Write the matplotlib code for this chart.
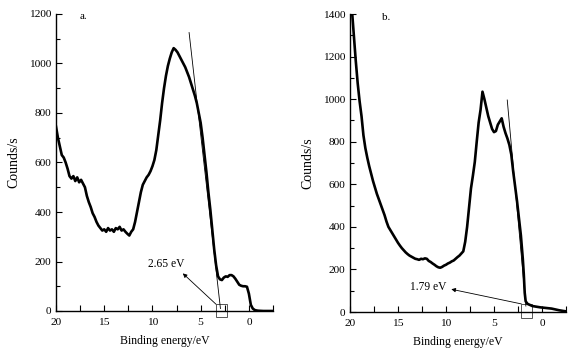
import matplotlib.pyplot as plt
from matplotlib.patches import Rectangle
from matplotlib.ticker import MultipleLocator

plt.rcParams['font.family'] = ['Liberation Serif', 'DejaVu Serif']

# Spectrum a (binding energy in eV, counts/s)
energy_a = [20.0, 19.8, 19.6, 19.4, 19.2, 19.0, 18.8, 18.6, 18.4, 18.2, 18.0, 17.8, 17.6, 17.4,
            17.2, 17.0, 16.8, 16.6, 16.4, 16.2, 16.0, 15.8, 15.6, 15.4, 15.2, 15.0, 14.8, 14.6,
            14.4, 14.2, 14.0, 13.8, 13.6, 13.4, 13.2, 13.0, 12.8, 12.6, 12.4, 12.2, 12.0, 11.8,
            11.6, 11.4, 11.2, 11.0, 10.8, 10.6, 10.4, 10.2, 10.0, 9.8, 9.6, 9.4, 9.2, 9.0, 8.8,
            8.6, 8.4, 8.2, 8.0, 7.8, 7.6, 7.4, 7.2, 7.0, 6.8, 6.6, 6.4, 6.2, 6.0, 5.8, 5.6, 5.4,
            5.2, 5.0, 4.8, 4.6, 4.4, 4.2, 4.0, 3.8, 3.6, 3.4, 3.2, 3.0, 2.8, 2.6, 2.4, 2.2, 2.0,
            1.8, 1.6, 1.4, 1.2, 1.0, 0.8, 0.6, 0.4, 0.2, 0.0, -0.2, -0.4, -0.6, -0.8, -1.0, -1.5,
            -2.0, -2.5]
counts_a = [745, 700, 665, 630, 620, 600, 575, 545, 535, 545, 525, 540, 520, 530,
            515, 500, 465, 440, 420, 395, 380, 360, 345, 335, 325, 330, 320, 335,
            325, 330, 320, 335, 330, 340, 325, 330, 320, 312, 305, 320, 330, 360,
            400, 440, 480, 510, 525, 540, 550, 565, 585, 610, 650, 710, 770, 840, 900,
            950, 990, 1020, 1045, 1062, 1055, 1045, 1030, 1015, 1000, 985, 965, 945, 920, 895, 870, 840,
            800, 760, 700, 630, 560, 480, 410, 330, 250, 185, 140, 128, 125, 135, 140, 138, 145,
            145, 140, 130, 118, 106, 102, 100, 100, 98, 70, 25, 10, 4, 2, 1, 0,
            0, 0]

# Spectrum b
energy_b = [19.8, 19.6, 19.4, 19.2, 19.0, 18.8, 18.6, 18.4, 18.2, 18.0, 17.8, 17.6, 17.4, 17.2,
            17.0, 16.8, 16.6, 16.4, 16.2, 16.0, 15.8, 15.6, 15.4, 15.2, 15.0, 14.8, 14.6, 14.4,
            14.2, 14.0, 13.8, 13.6, 13.4, 13.2, 13.0, 12.8, 12.6, 12.4, 12.2, 12.0, 11.8, 11.6,
            11.4, 11.2, 11.0, 10.8, 10.6, 10.4, 10.2, 10.0, 9.8, 9.6, 9.4, 9.2, 9.0, 8.8, 8.6,
            8.4, 8.2, 8.0, 7.8, 7.6, 7.4, 7.2, 7.0, 6.8, 6.6, 6.4, 6.2, 6.0, 5.8, 5.6, 5.4, 5.2,
            5.0, 4.8, 4.6, 4.4, 4.2, 4.0, 3.8, 3.6, 3.4, 3.2, 3.0, 2.8, 2.6, 2.4, 2.2, 2.0, 1.9,
            1.8, 1.7, 1.5, 1.2, 1.0, 0.6, 0.2, -0.2, -0.6, -1.0, -1.4, -1.8, -2.2, -2.5]
counts_b = [1420, 1300, 1180, 1075, 990, 920, 830, 770, 725, 685, 650, 615, 585, 555,
            530, 505, 480, 455, 425, 400, 385, 370, 355, 340, 325, 312, 300, 290,
            280, 272, 265, 260, 255, 250, 248, 245, 250, 248, 252, 250, 240, 235,
            228, 222, 215, 210, 208, 212, 218, 222, 228, 232, 238, 242, 250, 258, 265,
            275, 285, 330, 400, 490, 580, 640, 705, 800, 890, 950, 1035, 1000, 960, 920, 890, 860,
            845, 850, 880, 895, 910, 870, 840, 815, 785, 740, 660, 590, 520, 440, 360, 250, 180,
            90, 50, 38, 32, 28, 25, 22, 20, 18, 16, 12, 8, 5, 3]

panels = [
    dict(E=energy_a, C=counts_a, ymax=1200, tag='a.', tag_xy=(17.6, 1190),
         tangent=([6.2, 2.95], [1125, 10]), box=(2.23, -25, 1.2, 52),
         label='2.65 eV', label_xy=(8.6, 190), tip=(6.85, 152), tail=(3.4, 27),
         rect=[56 / 582, 48 / 359, 217 / 582, 297 / 359]),
    dict(E=energy_b, C=counts_b, ymax=1400, tag='b.', tag_xy=(16.7, 1385),
         tangent=([3.62, 1.68], [996, 28]), box=(1.05, -27, 1.16, 64),
         label='1.79 eV', label_xy=(11.9, 119), tip=(9.45, 107), tail=(2.15, 38),
         rect=[350 / 582, 47 / 359, 216 / 582, 298 / 359]),
]

fig = plt.figure(figsize=(5.82, 3.59), dpi=100)

for p in panels:
    ax = fig.add_axes(p['rect'])
    ax.plot(p['E'], p['C'], color='black', lw=1.9, solid_joinstyle='round')
    ax.plot(p['tangent'][0], p['tangent'][1], color='black', lw=0.6)
    x0, y0, w, h = p['box']
    ax.add_patch(Rectangle((x0, y0), w, h, fill=False, ec='#555555', lw=0.7, clip_on=False))
    ax.annotate('', xy=p['tip'], xytext=p['tail'],
                arrowprops=dict(arrowstyle='-|>', color='black', lw=0.6,
                                mutation_scale=6, shrinkA=0, shrinkB=0))
    ax.text(p['label_xy'][0], p['label_xy'][1], p['label'], ha='center', va='center', fontsize=8.3)
    ax.text(p['tag_xy'][0], p['tag_xy'][1], p['tag'], ha='left', va='center', fontsize=8)

    ax.set_xlim(20, -2.5)
    ax.set_ylim(0, p['ymax'])
    ax.xaxis.set_major_locator(MultipleLocator(5))
    ax.xaxis.set_minor_locator(MultipleLocator(2.5))
    ax.yaxis.set_major_locator(MultipleLocator(200))
    ax.yaxis.set_minor_locator(MultipleLocator(100))
    ax.tick_params(which='both', direction='in', labelsize=8.2, width=0.8)
    ax.tick_params(which='major', length=4)
    ax.tick_params(which='minor', length=3)
    ax.tick_params(axis='x', which='minor', length=4)
    ax.tick_params(axis='x', which='major', pad=5)
    for s in ['top', 'right']:
        ax.spines[s].set_visible(False)
    for s in ['left', 'bottom']:
        ax.spines[s].set_linewidth(1.0)
    ax.set_xlabel('Binding energy/eV', fontsize=8.5, labelpad=6)
    ax.set_ylabel('Counds/s', fontsize=10, labelpad=6)

fig.savefig('out.png', dpi=100)
